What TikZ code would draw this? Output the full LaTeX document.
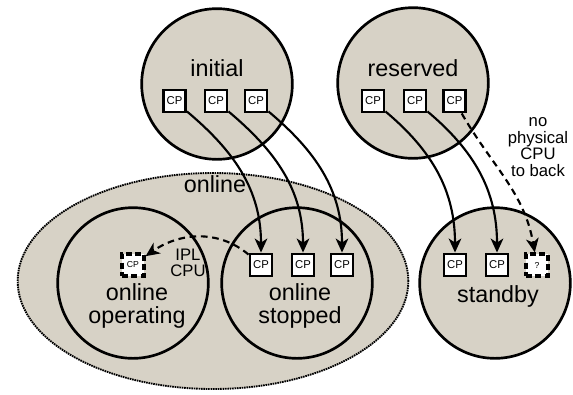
\documentclass[tikz,border=0pt]{standalone}
\usepackage{fontspec}
\setmainfont{Liberation Sans}
\usetikzlibrary{arrows.meta,shapes.geometric}
\definecolor{statefill}{RGB}{215,210,198}

\begin{document}
\begin{tikzpicture}
[x=0.75pt,y=0.75pt,
 state/.style={circle,draw,line width=2pt,fill=statefill,minimum size=113pt,inner sep=0pt},
 group/.style={ellipse,draw,line width=1.4pt,dash pattern=on 1.2pt off 0.6pt,fill=statefill,minimum width=293pt,minimum height=162pt},
 statename/.style={align=center,font=\fontsize{17.5}{17.5}\selectfont},
 note/.style={align=center,font=\fontsize{12.5}{12.5}\selectfont},
 cpu/.style={rectangle,draw,line width=2.2pt,fill=white,minimum size=16.5pt,inner sep=0pt,font=\fontsize{8.5}{10}\selectfont},
 nocpu/.style={cpu,line width=2.4pt,dash pattern=on 4.5pt off 2.5pt,font=\fontsize{6.5}{8}\selectfont},
 move/.style={-{Stealth[length=10.5pt,width=9.5pt,inset=3pt]},line width=1.6pt},
 nomove/.style={move,dash pattern=on 5pt off 3.5pt}]
\useasboundingbox (0,0) rectangle (573,-394);
% states
\node[group] (online) at (213,-281) {};
\node[state] (initial) at (217,-84) {};
\node[state] (reserved) at (413,-83) {};
\node[state] (operating) at (133,-283) {};
\node[state] (stopped) at (297,-283) {};
\node[state] (standby) at (495,-283) {};
% state names
\node[statename] (tinitial) at (217,-68) {initial};
\node[statename] (treserved) at (413,-68) {reserved};
\node[statename] (tonline) at (215,-184) {online};
\node[statename] (toperating) at (137,-306) {online\\operating};
\node[statename] (tstopped) at (300,-306) {online\\stopped};
\node[statename] (tstandby) at (498,-296) {standby};
% processors
\node[cpu] (i1) at (174.5,-101) {CP};
\node[cpu] (i2) at (216,-101) {CP};
\node[cpu] (i3) at (256,-101) {CP};
\node[cpu] (r1) at (373,-101) {CP};
\node[cpu] (r2) at (415,-101) {CP};
\node[cpu] (r3) at (454.5,-101) {CP};
\node[cpu] (s1) at (261,-265) {CP};
\node[cpu] (s2) at (303,-265) {CP};
\node[cpu] (s3) at (342,-265) {CP};
\node[nocpu] (o1) at (133,-265) {CP};
\node[cpu] (b1) at (455,-265) {CP};
\node[cpu] (b2) at (497,-265) {CP};
\node[nocpu] (b3) at (537,-265) {?};
% notes
\node[note] (ipl) at (188,-263) {IPL\\CPU};
\node[note] (noback) at (538,-147) {no\\physical\\CPU\\to back};
% transitions
\foreach \from/\to in {i1/s1,i2/s2,i3/s3,r1/b1,r2/b2}
\draw[move] (\from) to[out=-40,in=90] (\to);
\draw[nomove] (r3) to[out=-60,in=100] (b3);
\draw[nomove] (s1) to[out=140,in=35] (o1);
\end{tikzpicture}
\end{document}
